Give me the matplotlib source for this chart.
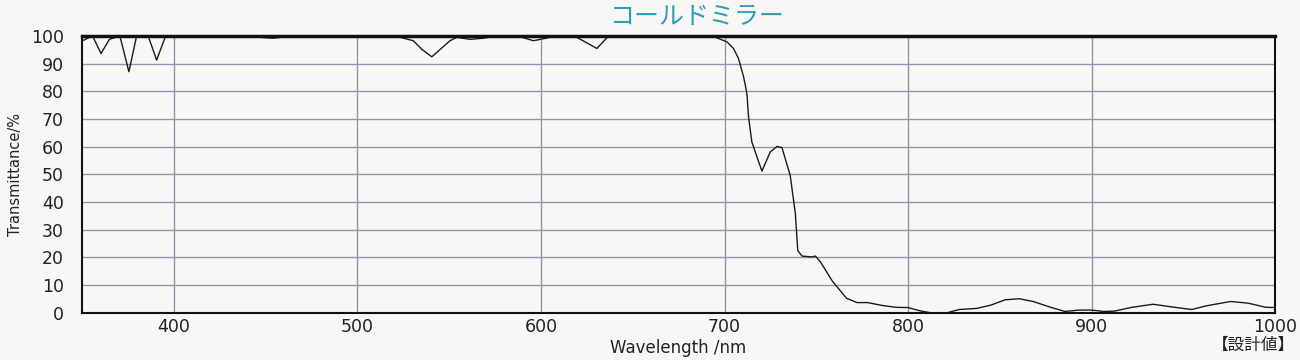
import matplotlib
matplotlib.use("Agg")
import matplotlib.pyplot as plt

plt.rcParams['font.family'] = ['DejaVu Sans', 'Noto Sans CJK JP']

# wavelength (nm) and transmittance (%)
wavelength = [350, 355.8, 360.4, 365, 370.7, 375.6, 379.8, 386.1, 390.7, 395.6,
              399, 420, 445, 454, 460, 470, 520.6, 530.5, 535.1, 540.6,
              550.5, 554.2, 561.4, 568.7, 574, 580, 588.7, 596, 605, 612,
              619.6, 630.5, 636.8, 690, 694, 701.3, 704.9, 707.6, 710.4, 712.2,
              713.1, 714.9, 717.7, 720.4, 724.9, 728.6, 731.3, 735.8, 738.6, 739.9,
              742.2, 747.6, 749.5, 752.2, 758.7, 766.4, 772.2, 778, 785.6, 793.3,
              800, 806.7, 812.5, 821.1, 827.8, 837.4, 845.1, 852.8, 860.5, 868.1,
              877.7, 885.4, 893.1, 899.8, 906.5, 912.3, 921.9, 933.4, 943, 954.5,
              962.2, 975.6, 985.2, 994.8, 1000]
transmittance = [98.2, 100, 93.7, 98.8, 100, 87.1, 100, 100, 91.3, 100,
                 99.5, 99.6, 99.6, 99.2, 99.6, 100, 100, 98.3, 95.2, 92.5,
                 98.3, 99.5, 98.8, 99.2, 99.8, 100, 99.7, 98.3, 99.5, 100,
                 99.5, 95.5, 100, 100, 99.8, 97.9, 95.5, 91.9, 85.3, 79.2,
                 70.8, 61.7, 56.3, 51.2, 58.1, 60.1, 59.7, 49.6, 35.8, 22.5,
                 20.5, 20.2, 20.5, 18.5, 11.5, 5.3, 3.7, 3.7, 2.7, 2.0,
                 1.9, 0.7, 0, 0, 1.2, 1.6, 2.8, 4.7, 5.1, 4.1,
                 2.0, 0.5, 1.0, 1.0, 0.5, 0.6, 2.0, 3.1, 2.2, 1.2,
                 2.5, 4.1, 3.5, 2.0, 1.9]

x_ticks = [400, 500, 600, 700, 800, 900, 1000]
y_ticks = [0, 10, 20, 30, 40, 50, 60, 70, 80, 90, 100]

bg = '#f8f7f5'
fig = plt.figure(figsize=(13, 3.6), dpi=100, facecolor=bg)
ax = fig.add_axes([0.063, 0.131, 0.918, 0.769], facecolor=bg)

# grid first, then the curve on top
ax.set_xlim(350, 1000)
ax.set_ylim(0, 100)
ax.set_xticks(x_ticks)
ax.set_yticks(y_ticks)
ax.grid(True, color='#8c97aa', linewidth=1.0)
ax.set_axisbelow(True)
ax.tick_params(length=0, labelsize=12.5, colors='#222222')
ax.tick_params(axis='x', pad=4)
ax.tick_params(axis='y', pad=13)
ax.plot(wavelength, transmittance, color='#1a1a1a', linewidth=1.0)

for side in ['left', 'right', 'bottom']:
    ax.spines[side].set_linewidth(1.5)
    ax.spines[side].set_color('#111111')
ax.spines['top'].set_linewidth(2.5)
ax.spines['top'].set_color('#111111')

ax.set_xlabel('Wavelength /nm', fontsize=12, labelpad=2, color='#222222')
ax.set_ylabel('Transmittance/%', fontsize=10.5, labelpad=6, color='#222222')

fig.text(0.536, 0.952, 'コールドミラー', family=['Noto Sans CJK JP', 'DejaVu Sans'],
         fontsize=18, color='#2b9fb8', ha='center', va='center')
fig.text(0.964, 0.040, '【設計値】', family=['Noto Sans CJK JP', 'DejaVu Sans'],
         fontsize=12, color='#222222', ha='center', va='center')

fig.savefig('out.png', dpi=100, facecolor=bg)
